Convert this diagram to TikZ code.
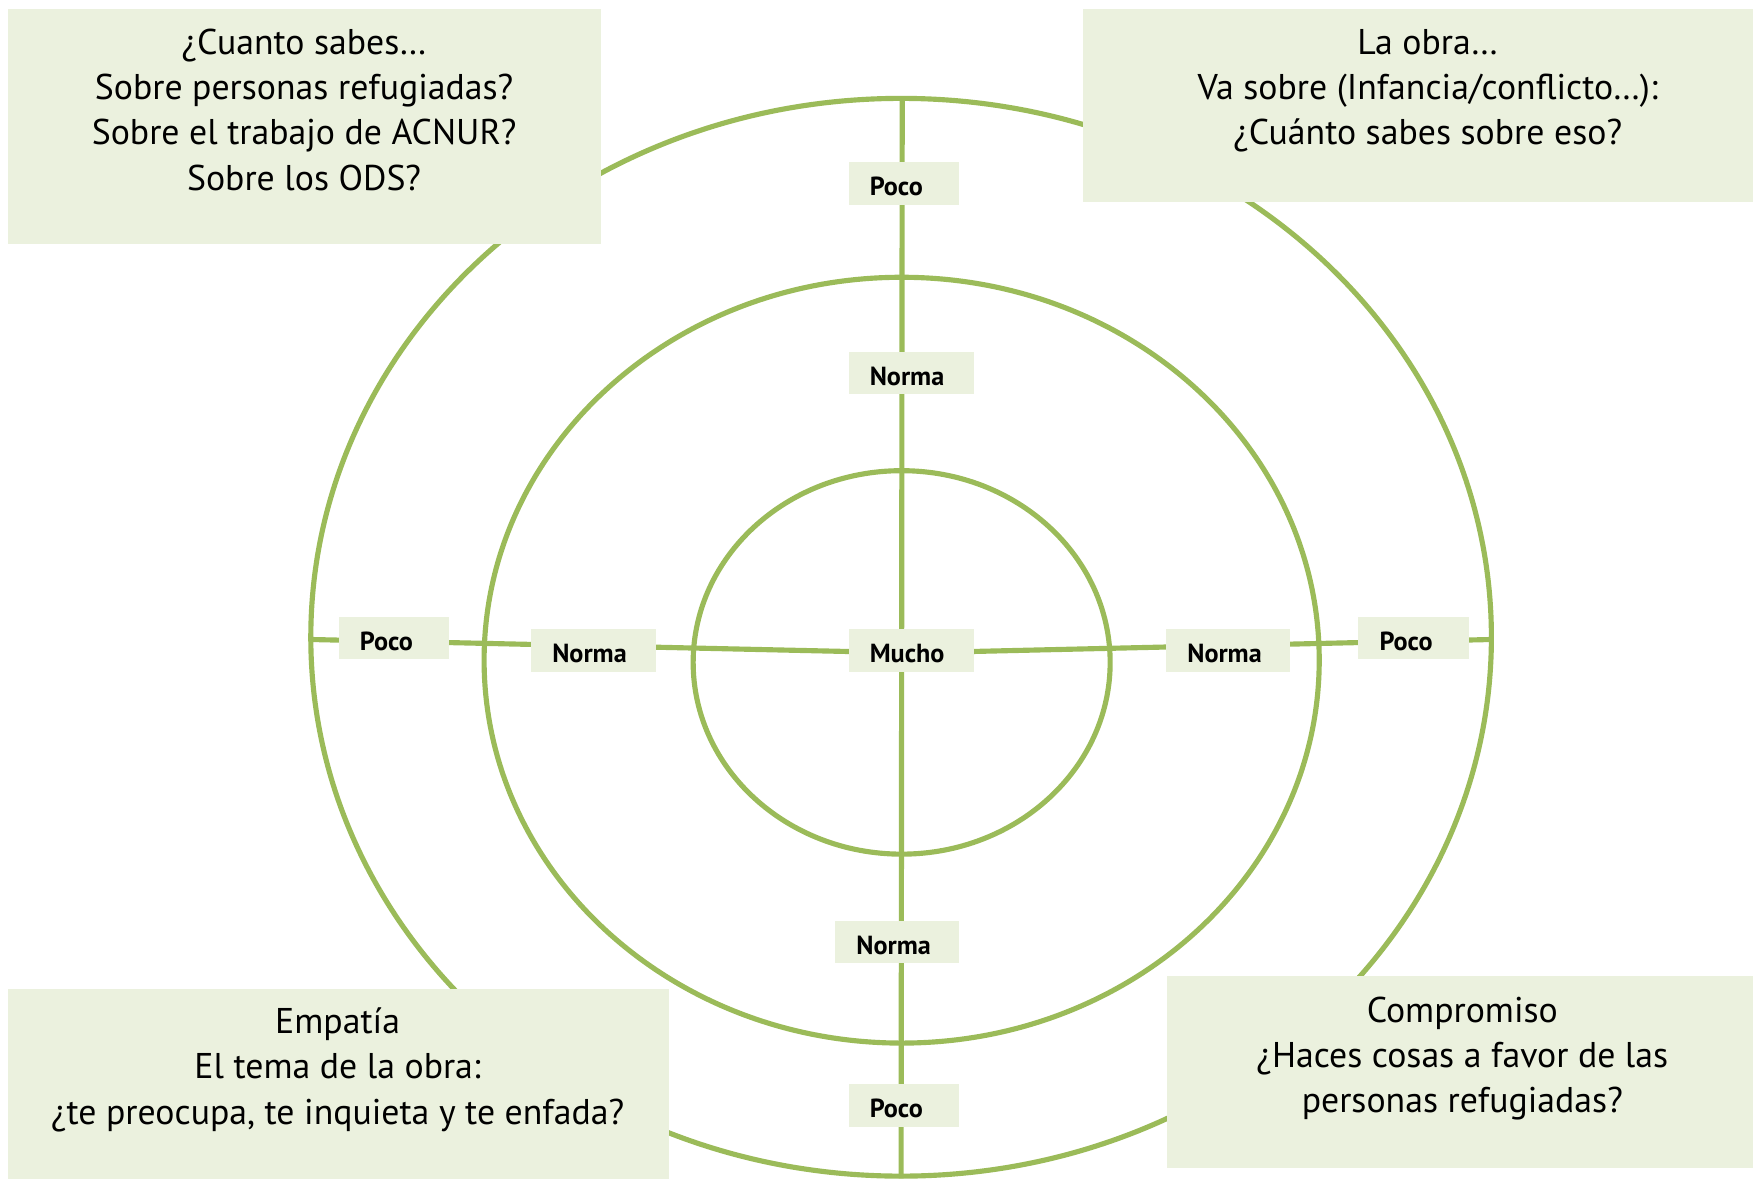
\documentclass[tikz,border=0pt]{standalone}
\usepackage{fontspec}
\setmainfont{PT Sans}
\definecolor{lgreen}{HTML}{9BBB59}
\definecolor{lfill}{HTML}{EBF1DE}
\begin{document}
\begin{tikzpicture}[x=0.5pt,y=-0.5pt,
  ring/.style={draw=lgreen,line width=2.3pt},
  axis/.style={draw=lgreen,line width=2.3pt},
  bigbox/.style={fill=lfill,draw=none,anchor=north west,inner sep=0pt},
  bigtext/.style={align=center,anchor=base,inner sep=0pt,font=\fontsize{16}{20.25}\selectfont},
  lab/.style={fill=lfill,draw=none,inner xsep=9.5pt,inner ysep=0pt,text height=15pt,text depth=4pt,
    align=left,font=\bfseries\fontsize{11.7}{12}\selectfont}
]
\useasboundingbox (0,0) rectangle (1568,1054);
% rings
\draw[ring] (806,570) ellipse [x radius=264pt, y radius=241pt];
\draw[ring] (806.5,590.5) ellipse [x radius=186.75pt, y radius=171.25pt];
\draw[ring] (806.5,592.5) ellipse [x radius=93.25pt, y radius=85.75pt];
% axes
\coordinate (vtop) at (807,88);
\coordinate (vbot) at (806,1054);
\coordinate (hleft) at (278,572);
\coordinate (hmid) at (815,584);
\coordinate (hright) at (1334,572);
\draw[axis] (vtop) -- (vbot);
\draw[axis] (hleft) -- (hmid) -- (hright);
% labels
\node[lab,text width=30.5pt] (pocoT) at (808.5,164) {Poco};
\node[lab,text width=37pt] (normaT) at (815,333.5) {Norma};
\node[lab,text width=37pt] (mucho) at (815,582) {Mucho};
\node[lab,text width=36.5pt] (normaB) at (802.5,842.5) {Norma};
\node[lab,text width=30.5pt] (pocoB) at (808.5,989) {Poco};
\node[lab,text width=30.5pt] (pocoL) at (352.5,570.5) {Poco};
\node[lab,text width=37pt] (normaL) at (531,582) {Norma};
\node[lab,text width=36.5pt] (normaR) at (1098.5,582) {Norma};
\node[lab,text width=30.5pt] (pocoR) at (1264.5,570.5) {Poco};
% big boxes
\node[bigbox,minimum width=265pt,minimum height=105pt] (tl) at (7,8) {};
\node[bigbox,minimum width=300pt,minimum height=86pt] (tr) at (968,8) {};
\node[bigbox,minimum width=295.5pt,minimum height=85pt] (bl) at (7,884) {};
\node[bigbox,minimum width=262.5pt,minimum height=85.5pt] (br) at (1043,873) {};
\node[bigtext] (tltext) at (272,170) {¿Cuanto sabes…\\Sobre personas refugiadas?\\Sobre el trabajo de ACNUR?\\Sobre los ODS?};
\node[bigtext] (trtext) at (1277,129.5) {La obra…\\Va sobre (Infancia/conflicto…):\\¿Cuánto sabes sobre eso?};
\node[bigtext] (bltext) at (302,1005.5) {Empatía\\El tema de la obra:\\¿te preocupa, te inquieta y te enfada?};
\node[bigtext] (brtext) at (1308,995.5) {Compromiso\\¿Haces cosas a favor de las\\personas refugiadas?};
\end{tikzpicture}
\end{document}
